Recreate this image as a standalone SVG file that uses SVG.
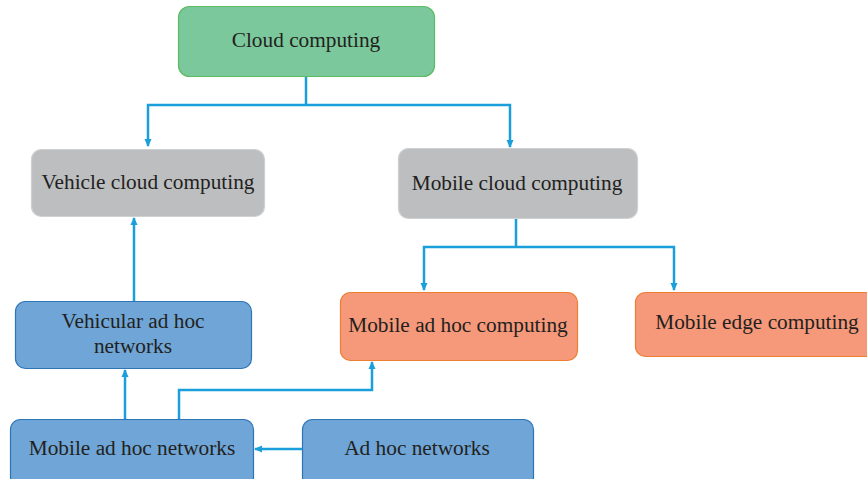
<svg xmlns="http://www.w3.org/2000/svg" width="867" height="479" viewBox="0 0 867 479">
<defs>
<marker id="ah" markerWidth="8" markerHeight="8" refX="7" refY="4" orient="auto" markerUnits="userSpaceOnUse">
<path d="M0,0.5 L8,4 L0,7.5 Z" fill="#1a9fdb"/>
</marker>
<style>
text{font-family:'Liberation Serif','DejaVu Serif','Times New Roman',Times,serif;font-size:21.3px;fill:#231f20;text-anchor:middle}
.green{fill:#7bc89c;stroke:#5dbb63;stroke-width:1.2}
.gray{fill:#bcbec0;stroke:#cfd0d2;stroke-width:1.2}
.blue{fill:#6fa6d7;stroke:#2e75b6;stroke-width:1.2}
.orange{fill:#f5997a;stroke:#ed7d31;stroke-width:1.2}
.conn path{fill:none;stroke:#1a9fdb;stroke-width:2.5}
</style>
</defs>
<g id="cloud"><rect class="green" x="178.5" y="6.5" width="256" height="70" rx="11"/><text x="306" y="47">Cloud computing</text></g>
<g id="vehicle-cloud"><rect class="gray" x="31.5" y="149.5" width="233" height="67" rx="10"/><text x="148" y="189">Vehicle cloud computing</text></g>
<g id="mobile-cloud"><rect class="gray" x="398.5" y="148.5" width="239" height="70" rx="10"/><text x="517" y="190">Mobile cloud computing</text></g>
<g id="vanet"><rect class="blue" x="15.5" y="301.5" width="236" height="67" rx="10"/><text x="133" y="328">Vehicular ad hoc</text><text x="133" y="353">networks</text></g>
<g id="mahc"><rect class="orange" x="340.5" y="292.5" width="237" height="68" rx="10"/><text x="458" y="332">Mobile ad hoc computing</text></g>
<g id="mec"><rect class="orange" x="635.5" y="292.5" width="245" height="64" rx="10"/><text x="757" y="329">Mobile edge computing</text></g>
<g id="manet"><rect class="blue" x="10.5" y="419.5" width="243" height="68" rx="10"/><text x="132" y="455">Mobile ad hoc networks</text></g>
<g id="adhoc"><rect class="blue" x="302.5" y="419.5" width="231" height="68" rx="10"/><text x="417" y="455">Ad hoc networks</text></g>
<g class="conn" id="connectors">
<path d="M306,77 V105"/>
<path d="M306,105 H148 V146" marker-end="url(#ah)"/>
<path d="M306,105 H510 V147" marker-end="url(#ah)"/>
<path d="M516,219 V247"/>
<path d="M516,247 H424 V290" marker-end="url(#ah)"/>
<path d="M516,247 H674 V290" marker-end="url(#ah)"/>
<path d="M134,301 V218" marker-end="url(#ah)"/>
<path d="M125,419 V370" marker-end="url(#ah)"/>
<path d="M179,419 V390 H372 V362" marker-end="url(#ah)"/>
<path d="M302,449 H255" marker-end="url(#ah)"/>
</g>
</svg>
